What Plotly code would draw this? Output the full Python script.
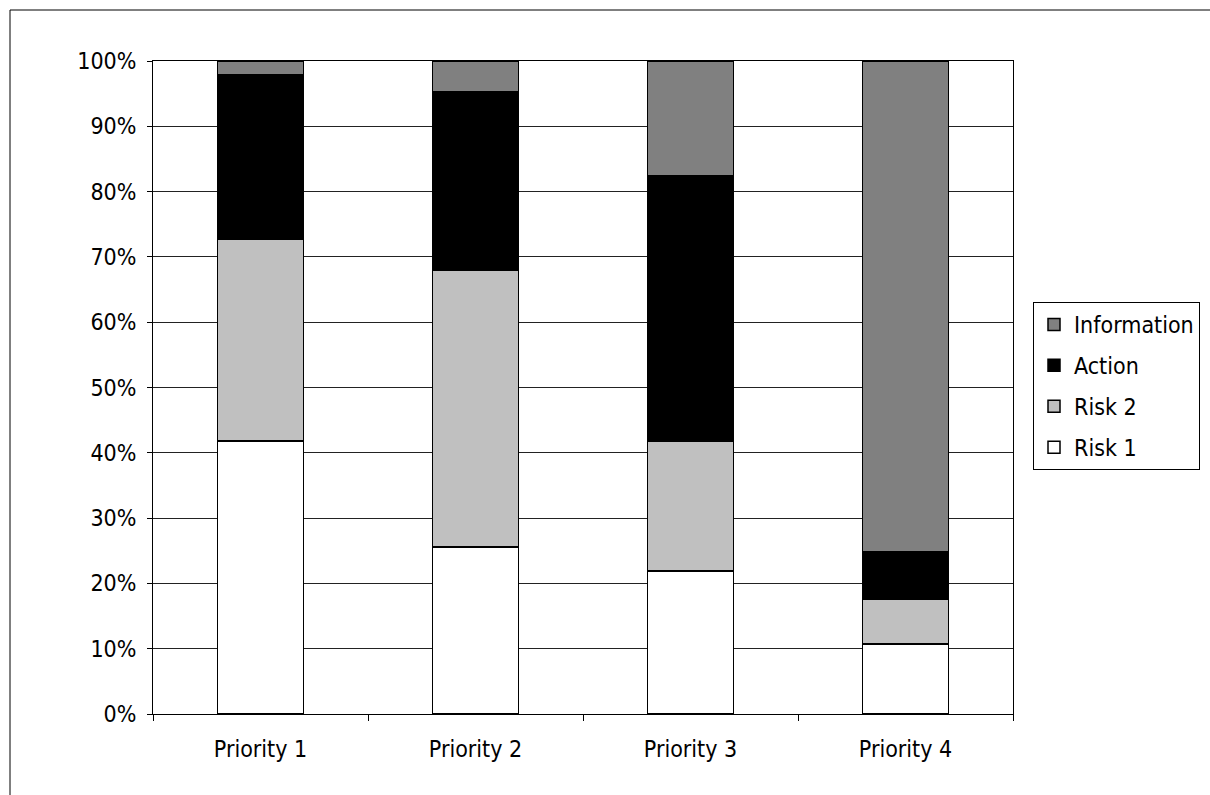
import plotly.graph_objects as go

categories = ["Priority 1", "Priority 2", "Priority 3", "Priority 4"]
risk1 = [41.8, 25.6, 21.9, 10.7]
risk2 = [30.9, 42.3, 19.8, 6.8]
action = [25.2, 27.4, 40.8, 7.4]
information = [2.1, 4.7, 17.5, 75.1]

y_ticks = [0, 10, 20, 30, 40, 50, 60, 70, 80, 90, 100]
y_tick_labels = [f"{v}%" for v in y_ticks]

# stacked bottom to top; legend lists them top to bottom
series = [
    ("Risk 1", risk1, "#ffffff", 4),
    ("Risk 2", risk2, "#c0c0c0", 3),
    ("Action", action, "#000000", 2),
    ("Information", information, "#808080", 1),
]

FONT = "DejaVu Sans Condensed, Tahoma, sans-serif"
FSIZE = 23

fig = go.Figure()
for name, vals, color, rank in series:
    fig.add_trace(go.Bar(
        name=name, x=categories, y=vals, width=0.4,
        legendgroup=name, legendrank=rank,
        marker=dict(color=color, line=dict(color="#000000", width=1.5)),
    ))

L, R, T, B = 153, 197, 61, 81
W, H = 1210, 795
pw, ph = W - L - R, H - T - B

fig.update_layout(
    barmode="stack",
    width=W, height=H,
    margin=dict(l=L, r=R, t=T, b=B, autoexpand=False),
    paper_bgcolor="#ffffff", plot_bgcolor="#ffffff",
    font=dict(family=FONT, size=FSIZE, color="#000000"),
    showlegend=True,
    legend=dict(
        x=(1033 - L) / pw, xanchor="left",
        y=(714 - 386) / ph, yanchor="middle",
        traceorder="grouped",
        bordercolor="#000000", borderwidth=1,
        bgcolor="#ffffff",
        font=dict(family=FONT, size=FSIZE),
        itemwidth=30, tracegroupgap=8,
    ),
    xaxis=dict(
        showline=True, linecolor="#000000", linewidth=1,
        ticks="outside", ticklen=6, tickcolor="#000000",
        tickson="boundaries", mirror=True,
        showgrid=False, zeroline=False,
        ticklabelstandoff=14,
    ),
    yaxis=dict(
        range=[0, 100], tickvals=y_ticks, ticktext=y_tick_labels,
        showline=True, linecolor="#000000", linewidth=1, mirror=True,
        ticks="outside", ticklen=5, tickcolor="#000000",
        showgrid=True, gridcolor="#222222", gridwidth=1,
        zeroline=False,
        ticklabelstandoff=6,
    ),
    shapes=[
        dict(type="line", xref="paper", yref="paper",
             x0=(10 - L) / pw, x1=(W + 20 - L) / pw,
             y0=(H - B - 10) / ph, y1=(H - B - 10) / ph,
             line=dict(color="#000000", width=1)),
        dict(type="line", xref="paper", yref="paper",
             x0=(10 - L) / pw, x1=(10 - L) / pw,
             y0=(H - B - 10) / ph, y1=-(B + 20) / ph,
             line=dict(color="#000000", width=1)),
    ],
)

fig.write_html("out.html")
